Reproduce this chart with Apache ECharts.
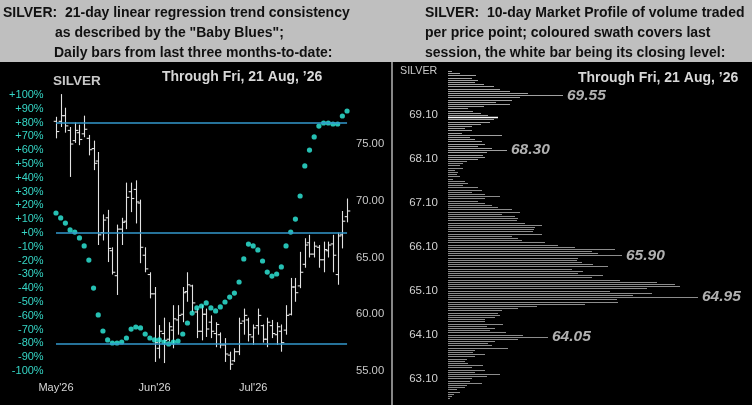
<!DOCTYPE html>
<html>
<head>
<meta charset="utf-8">
<script src="https://cdn.jsdelivr.net/npm/echarts@6/dist/echarts.min.js"></script>
<style>
html,body{margin:0;padding:0;background:#000;}
#main{width:752px;height:405px;}
</style>
</head>
<body>
<div id="main"></div>
<script>
var FONT = '"Liberation Sans", Arial, sans-serif';

// left panel: daily bars, last three months
var barOpen  = [77.0,77.0,77.5,76.2,75.3,76.0,75.9,75.5,74.6,73.5, 67.2,68.5,65.6,63.4,67.5,68.2,70.8,71.0,69.8,65.2,
                63.5,61.8,57.0,58.3,57.8,58.6,59.5,60.0,62.0,62.5, 60.2,58.5,60.0,59.3,58.3,58.2,57.3,56.4,55.9,56.7,
                59.4,59.5,58.0,59.0,59.0,57.8,59.0,58.2,58.5,58.6, 60.0,62.4,62.5,64.4,66.3,65.3,65.9,64.8,65.6,66.2,
                63.5,67.0,68.6];
var barHigh  = [77.4,79.4,78.2,76.5,76.9,76.7,77.5,75.8,75.3,74.3, 68.8,69.2,65.9,67.9,68.5,71.6,71.6,71.8,70.1,65.9,
                63.7,62.4,59.05,59.7,59.3,60.8,60.8,62.4,63.7,62.6, 60.5,60.8,60.5,59.9,59.3,58.4,57.9,56.7,57.0,59.7,
                60.5,59.7,59.1,60.5,59.1,59.7,59.5,59.3,59.1,60.8, 63.2,63.2,65.5,66.7,67.0,66.4,66.1,66.4,66.4,67.0,
                67.2,69.1,70.2];
var barLow   = [75.5,76.5,76.0,72.1,75.1,74.9,75.6,74.0,72.7,66.1, 66.5,64.6,63.5,61.7,66.1,67.5,69.0,68.0,64.5,63.7,
                61.4,55.8,56.1,55.7,57.6,57.0,58.2,59.3,61.1,60.2, 57.9,57.7,58.0,57.9,57.1,57.0,55.8,55.1,55.8,56.4,
                58.2,57.6,57.3,58.2,57.5,57.1,57.9,57.3,56.7,58.2, 59.9,61.1,62.3,64.1,65.0,65.0,64.1,63.7,65.0,63.7,
                62.6,65.8,68.1];
var barClose = [76.1,77.5,76.6,75.0,76.2,75.4,76.3,74.5,73.3,67.0, 68.3,65.8,63.7,67.5,68.1,70.3,70.2,69.9,65.9,64.0,
                61.8,57.5,58.5,57.7,58.9,59.6,59.9,61.9,62.6,61.0, 58.5,60.0,58.7,58.5,59.1,57.3,56.5,55.6,56.7,59.2,
                59.9,58.2,58.8,59.9,57.8,59.3,58.3,58.9,57.5,59.9, 62.4,61.9,63.7,66.1,65.3,66.0,64.8,65.7,66.1,65.2,
                66.9,68.2,69.1];
// 21-day linear regression trend consistency, %
var trendPct = [14.5,10.9,7.2,2.2,0.7,-3.6,-9.4,-19.6,-39.9,-59.4, -71.0,-77.5,-79.7,-79.7,-79.0,-76.1,-69.6,-68.1,-68.8,-73.2,
                -76.1,-77.5,-77.5,-79.0,-80.4,-79.0,-78.3,-73.2,-65.2,-58.0, -54.3,-52.9,-50.7,-54.3,-56.5,-53.6,-50.0,-46.4,-43.5,-35.5,
                -18.8,-8.0,-9.4,-12.3,-20.3,-28.3,-31.2,-29.7,-24.6,-9.4, 0.7,10.1,26.8,48.6,60.1,69.6,77.5,79.7,79.7,79.0,
                79.0,84.8,88.4];
var trendLevels  = [80, 0, -80];
var monthLabels  = ["May'26", "Jun'26", "Jul'26"];
var monthLabelAt = [0, 21, 42];

// right panel: 10-day market profile, rows from 70.10 down in 0.05 steps
var profileTop = 70.10, profileStep = 0.05;
var profileVol = [4,12,28,24,30,27,36,46,52,62, 80,115,72,64,48,62,36,20,25,33,
                  40,50,46,42,33,24,17,24,14,54, 22,27,34,37,30,44,59,39,35,37,
                  30,19,15,12,15,7,10,9,12,5, 17,20,15,30,34,24,37,52,37,30,
                  37,44,50,64,72,54,67,70,69,77, 94,87,86,85,94,64,70,74,97,110,
                  127,167,144,150,174,130,129,134,145,160, 124,135,130,155,144,172,209,227,232,199,
                  162,204,185,250,169,170,137,89,70,54, 50,52,47,37,37,55,39,47,42,58,
                  75,100,70,47,40,44,60,27,25,37, 27,19,17,20,35,24,37,27,52,39,
                  24,22,34,19,17,9,12,6,4,2];
var closeLevel  = 69.05;
var sessionLow  = 68.10, sessionHigh = 70.15;
var peakLevels  = [69.55, 68.30, 65.90, 64.95, 64.05];

var days = barOpen.map(function (v, i) { return String(i); });
var ohlc = barOpen.map(function (o, i) { return [i, o, barClose[i], barLow[i], barHigh[i]]; });
var dots = trendPct.map(function (v, i) { return [i, v]; });
var rows = profileVol.map(function (v, k) { return [v, +(profileTop - k * profileStep).toFixed(2)]; });
var peaks = peakLevels.map(function (p) {
    var k = Math.round((profileTop - p) / profileStep);
    return [profileVol[k], p];
});
var last = days.length - 1;

var myChart = echarts.init(document.getElementById('main'));
var option = {
    backgroundColor: '#000',
    animation: false,
    grid: [
        {left: 53.65, right: 402.6, top: 95, bottom: 34, outerBoundsMode: 'none'},
        {left: 448, right: 4, top: 71.1, bottom: 26.6, outerBoundsMode: 'none'}
    ],
    xAxis: [
        {
            type: 'category', gridIndex: 0, data: days, boundaryGap: true,
            axisLine: {show: false}, axisTick: {show: false}, splitLine: {show: false},
            axisLabel: {
                color: '#d8d8d8', fontFamily: FONT, fontSize: 11, margin: 11,
                interval: function (idx) { return monthLabelAt.indexOf(idx) >= 0; },
                formatter: function (v, idx) {
                    var k = monthLabelAt.indexOf(idx);
                    return k >= 0 ? monthLabels[k] : '';
                }
            }
        },
        {type: 'value', gridIndex: 1, min: 0, max: 300, show: false}
    ],
    yAxis: [
        {   // trend consistency %
            type: 'value', gridIndex: 0, position: 'left', min: -100, max: 100, interval: 10,
            axisLine: {show: false}, axisTick: {show: false}, splitLine: {show: false},
            axisLabel: {
                color: '#35d5c5', fontFamily: FONT, fontSize: 11, margin: 10,
                formatter: function (v) { return (v >= 0 ? '+' : '') + v + '%'; }
            }
        },
        {   // price
            type: 'value', gridIndex: 0, position: 'right', min: 55, max: 79.32, interval: 5,
            axisLine: {show: false}, axisTick: {show: false}, splitLine: {show: false},
            axisLabel: {
                color: '#c8c8c8', fontFamily: FONT, fontSize: 11.3, margin: 6.5, showMaxLabel: false,
                formatter: function (v) { return v % 5 === 0 ? v.toFixed(2) : ''; }
            }
        },
        {   // profile price
            type: 'value', gridIndex: 1, position: 'left', min: 63.10, max: 70.10, interval: 1,
            axisLine: {show: false}, axisTick: {show: false}, splitLine: {show: false},
            axisLabel: {
                color: '#d0d0d0', fontFamily: FONT, fontSize: 11.5, margin: 10, showMaxLabel: false,
                formatter: function (v) { return v > 70 ? '' : v.toFixed(2); }
            }
        }
    ],
    series: [
        {
            name: 'bars', type: 'custom', xAxisIndex: 0, yAxisIndex: 1,
            data: ohlc, encode: {x: 0, y: [1, 2, 3, 4]}, clip: false,
            renderItem: function (params, api) {
                var i = api.value(0);
                var o = api.coord([i, api.value(1)]);
                var c = api.coord([i, api.value(2)]);
                var l = api.coord([i, api.value(3)]);
                var h = api.coord([i, api.value(4)]);
                var x = Math.round(o[0]) + 0.5;
                var st = {stroke: '#e2e2e2', lineWidth: 1.1};
                return {type: 'group', children: [
                    {type: 'line', shape: {x1: x, y1: h[1], x2: x, y2: l[1]}, style: st},
                    {type: 'line', shape: {x1: x - 2.8, y1: o[1], x2: x, y2: o[1]}, style: st},
                    {type: 'line', shape: {x1: x, y1: c[1], x2: x + 2.8, y2: c[1]}, style: st}
                ]};
            }
        },
        {
            name: 'trend', type: 'scatter', xAxisIndex: 0, yAxisIndex: 0,
            data: dots, symbolSize: 5.2, itemStyle: {color: '#30f0e0'}, z: 3,
            markLine: {
                silent: true, symbol: 'none', label: {show: false},
                lineStyle: {color: '#3399cc', width: 1.5, type: 'solid'},
                data: trendLevels.map(function (lv) { return [{coord: [0, lv]}, {coord: [last, lv]}]; })
            }
        },
        {
            name: 'profile', type: 'custom', xAxisIndex: 1, yAxisIndex: 2,
            data: rows, encode: {x: 0, y: 1}, clip: false,
            renderItem: function (params, api) {
                var v = api.value(0), p = api.value(1);
                var a = api.coord([0, p]), b = api.coord([v, p]);
                var y = Math.round(a[1]) + 0.5;
                var isClose = Math.abs(p - closeLevel) < 1e-6;
                var inSession = p >= sessionLow && p <= sessionHigh;
                return {type: 'line', shape: {x1: a[0], y1: y, x2: b[0], y2: y},
                        style: {stroke: isClose ? '#ffffff' : (inSession ? '#a0a0a0' : '#8c8c8c'),
                                lineWidth: isClose ? 1.6 : 1}};
            }
        },
        {
            name: 'peaks', type: 'scatter', xAxisIndex: 1, yAxisIndex: 2,
            data: peaks, symbolSize: 0, silent: true,
            label: {
                show: true, position: 'right', distance: 4,
                color: '#dcdcdc', fontFamily: FONT, fontSize: 15.5, fontWeight: 'bold', fontStyle: 'italic',
                formatter: function (d) { return d.value[1].toFixed(2); }
            }
        }
    ],
    graphic: [
        {type: 'rect', shape: {x: 0, y: 0, width: 752, height: 62}, style: {fill: '#bfbfbf'}},
        {type: 'line', shape: {x1: 392, y1: 62, x2: 392, y2: 405}, style: {stroke: '#b4b4b4', lineWidth: 1.5}},
        {type: 'text', x: 3, y: 13.3, style: {text: 'SILVER:  21-day linear regression trend consistency', font: 'bold 14px ' + FONT, fill: '#111', verticalAlign: 'middle'}},
        {type: 'text', x: 55, y: 33.3, style: {text: 'as described by the "Baby Blues";', font: 'bold 14px ' + FONT, fill: '#111', verticalAlign: 'middle'}},
        {type: 'text', x: 54, y: 53.5, style: {text: 'Daily bars from last three months-to-date:', font: 'bold 14px ' + FONT, fill: '#111', verticalAlign: 'middle'}},
        {type: 'text', x: 425, y: 13.3, style: {text: 'SILVER:  10-day Market Profile of volume traded', font: 'bold 14px ' + FONT, fill: '#111', verticalAlign: 'middle'}},
        {type: 'text', x: 425, y: 33.3, style: {text: 'per price point; coloured swath covers last', font: 'bold 14px ' + FONT, fill: '#111', verticalAlign: 'middle'}},
        {type: 'text', x: 425, y: 53.5, style: {text: 'session, the white bar being its closing level:', font: 'bold 14px ' + FONT, fill: '#111', verticalAlign: 'middle'}},
        {type: 'text', x: 53, y: 81.7, style: {text: 'SILVER', font: 'bold 13.5px ' + FONT, fill: '#c8c8c8', verticalAlign: 'middle'}},
        {type: 'text', x: 162, y: 77.5, style: {text: 'Through Fri, 21 Aug, \u201926', font: 'bold 14px ' + FONT, fill: '#d8d8d8', verticalAlign: 'middle'}},
        {type: 'text', x: 400, y: 71, style: {text: 'SILVER', font: '10.7px ' + FONT, fill: '#c8c8c8', verticalAlign: 'middle'}},
        {type: 'text', x: 578, y: 78, style: {text: 'Through Fri, 21 Aug, \u201926', font: 'bold 14px ' + FONT, fill: '#d8d8d8', verticalAlign: 'middle'}}
    ]
};
myChart.setOption(option);
</script>
</body>
</html>
